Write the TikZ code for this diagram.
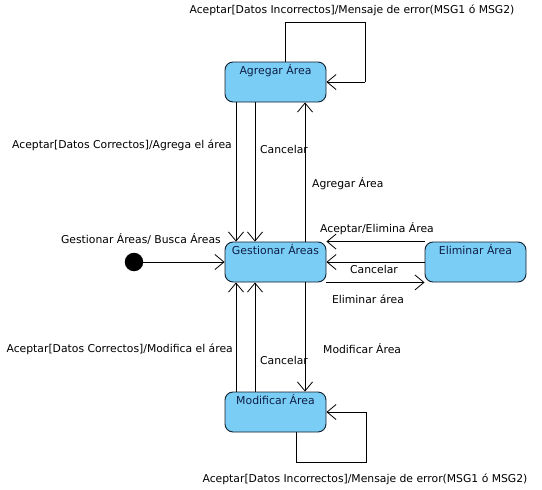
\documentclass[tikz,border=0pt]{standalone}
\usepackage{fontspec}
\setmainfont{DejaVu Sans}
\usetikzlibrary{arrows.meta}
\definecolor{stfill}{RGB}{122,206,245}
\definecolor{stline}{RGB}{20,30,45}
\definecolor{sttext}{RGB}{15,30,70}
\tikzset{
  statebox/.style={draw=stline, line width=0.9pt, fill=stfill, rounded corners=8pt,
    minimum width=101pt, minimum height=40pt, inner sep=0pt},
  stname/.style={anchor=north, inner sep=0pt, text=sttext, font=\fontsize{10.9}{12}\selectfont},
  lbl/.style={inner sep=0pt, font=\fontsize{10.8}{12}\selectfont},
  arr/.style={line width=0.8pt, -{Straight Barb[length=9pt,width=15pt,line width=0.8pt]}},
  ln/.style={line width=0.8pt}
}
\begin{document}
\begin{tikzpicture}[x=1pt,y=-1pt]
\useasboundingbox (0,0) rectangle (542,490);
% states
\node[statebox] (A) at (275.5,82) {};
\node[statebox] (G) at (275.5,262) {};
\node[statebox] (E) at (475.5,262) {};
\node[statebox] (M) at (275.5,412) {};
\node[stname] (At) at ([yshift=-2.5pt]A.north) {Agregar Área};
\node[stname] (Gt) at ([yshift=-2.5pt]G.north) {Gestionar Áreas};
\node[stname] (Et) at ([yshift=-2.5pt]E.north) {Eliminar Área};
\node[stname] (Mt) at ([yshift=-2.5pt]M.north) {Modificar Área};
% initial
\node[circle, fill=black, minimum size=18.5pt, inner sep=0pt] (I) at (134,262) {};
\draw[arr] (I) -- (G.west);
% Agregar <-> Gestionar
\draw[arr] ([xshift=-39.5pt]A.south) -- ([xshift=-39.5pt]G.north);
\draw[arr] ([xshift=-20.5pt]A.south) -- ([xshift=-20.5pt]G.north);
\draw[arr] ([xshift=29.5pt]G.north) -- ([xshift=29.5pt]A.south);
% Agregar self loop
\coordinate (a1) at (285,22);
\coordinate (a2) at (365,22);
\coordinate (a3) at (365,82);
\draw[ln] ([xshift=9.5pt]A.north) -- (a1) -- (a2) -- (a3);
\draw[arr] (a3) -- (A.east);
% Eliminar
\draw[arr] (E.north west) -- (G.north east);
\draw[arr] (E.west) -- (G.east);
\draw[arr] (G.south east) -- (E.south west);
% Modificar <-> Gestionar
\draw[arr] ([xshift=-39.5pt]M.north) -- ([xshift=-39.5pt]G.south);
\draw[arr] ([xshift=-20.5pt]M.north) -- ([xshift=-20.5pt]G.south);
\draw[arr] ([xshift=29.5pt]G.south) -- ([xshift=29.5pt]M.north);
% Modificar self loop
\coordinate (m1) at (296,462);
\coordinate (m2) at (366,462);
\coordinate (m3) at (366,412);
\draw[ln] ([xshift=20.5pt]M.south) -- (m1) -- (m2) -- (m3);
\draw[arr] (m3) -- (M.east);
% labels
\node[lbl] (l1) at (352,10) {Aceptar[Datos Incorrectos]/Mensaje de error(MSG1 ó MSG2)};
\node[lbl, anchor=east] (l2) at (232,145) {Aceptar[Datos Correctos]/Agrega el área};
\node[lbl, anchor=west] (l3) at (260,149) {Cancelar};
\node[lbl, anchor=west] (l4) at (312,184) {Agregar Área};
\node[lbl, anchor=east] (l5) at (221,239) {Gestionar Áreas/ Busca Áreas};
\node[lbl] (l6) at (377,229) {Aceptar/Elimina Área};
\node[lbl] (l7) at (374,269) {Cancelar};
\node[lbl] (l8) at (368,299) {Eliminar área};
\node[lbl, anchor=east] (l9) at (233,349) {Aceptar[Datos Correctos]/Modifica el área};
\node[lbl, anchor=west] (l10) at (260,360) {Cancelar};
\node[lbl, anchor=west] (l11) at (323,349) {Modificar Área};
\node[lbl] (l12) at (365,479) {Aceptar[Datos Incorrectos]/Mensaje de error(MSG1 ó MSG2)};
\end{tikzpicture}
\end{document}
